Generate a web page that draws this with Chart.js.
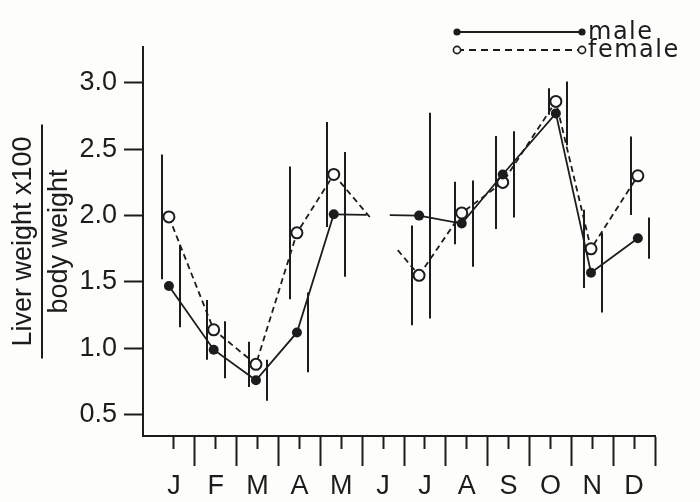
<!DOCTYPE html>
<html><head><meta charset="utf-8">
<script src="https://cdn.jsdelivr.net/npm/chart.js@4/dist/chart.umd.min.js"></script>
<style>html,body{margin:0;padding:0;background:#fdfdfb}canvas{display:block}</style>
</head><body>
<canvas id="c" width="700" height="502"></canvas>
<script>
// ---- data ----
const monthLabels = ['J','F','M','A','M','J','J','A','S','O','N','D'];
const sampleMonth = [0.38, 1.45, 2.46, 3.44, 4.32, 6.36, 7.38, 8.36, 9.63, 10.47, 11.59];
const maleMean    = [1.47, 0.99, 0.76, 1.12, 2.01, 2.00, 1.94, 2.31, 2.77, 1.57, 1.83];
const maleErr     = [0.31, 0.215, 0.155, 0.30, 0.47, 0.775, 0.325, 0.325, 0.24, 0.30, 0.155];
const femaleMean  = [1.99, 1.14, 0.88, 1.87, 2.31, 1.55, 2.02, 2.25, 2.86, 1.75, 2.30];
const femaleErr   = [0.47, 0.225, 0.17, 0.50, 0.395, 0.375, 0.235, 0.35, 0.10, 0.295, 0.295];
const yTickValues = [0.5, 1.0, 1.5, 2.0, 2.5, 3.0];
const missingMonth = 5; // June: no samples
const yTitle = ['Liver weight x100', 'body weight'];
const legendNames = ['male', 'female'];

// ---- style ----
const INK = '#1c1c1c';
const BG = '#fdfdfb';
const FONT = '"Liberation Sans", Arial, sans-serif';
const xTickValues = monthLabels.flatMap((_, i) => [i + 0.5, i + 1]);

function gapDash(base, gap) {
  return ctx => {
    const xs = ctx.chart.scales.x;
    const x0 = ctx.p0.x, x1 = ctx.p1.x;
    const g0 = xs.getPixelForValue(missingMonth + gap[0]);
    const g1 = xs.getPixelForValue(missingMonth + gap[1]);
    if (!(x0 < g0 && x1 > g1)) return base;
    const L = Math.hypot(x1 - x0, ctx.p1.y - ctx.p0.y);
    const k = L / (x1 - x0);
    const a = (g0 - x0) * k, b = (g1 - x0) * k;
    if (!base.length) return [a, b - a, L * 2, 1];
    const out = []; let pos = 0;
    while (pos < a) {
      const on = Math.min(base[0], a - pos); out.push(on); pos += on;
      let off = base[1]; if (pos + off >= a) off = b - pos;
      out.push(off); pos += off;
    }
    while (pos < L + 20) { out.push(base[0], base[1]); pos += base[0] + base[1]; }
    return out;
  };
}

const bgPlugin = {
  id: 'bg',
  beforeDraw(chart) {
    const c = chart.ctx; c.save(); c.fillStyle = BG; c.fillRect(0, 0, chart.width, chart.height); c.restore();
  }
};

const errorBars = {
  id: 'errorBars',
  beforeDatasetsDraw(chart) {
    const { ctx, scales: { x, y } } = chart;
    ctx.save(); ctx.strokeStyle = INK; ctx.lineWidth = 2;
    const draw = (means, errs, off) => means.forEach((m, i) => {
      const px = Math.round(x.getPixelForValue(sampleMonth[i])) + off;
      ctx.beginPath();
      ctx.moveTo(px, y.getPixelForValue(m + errs[i]));
      ctx.lineTo(px, y.getPixelForValue(m - errs[i]));
      ctx.stroke();
    });
    draw(femaleMean, femaleErr, -7);
    draw(maleMean, maleErr, 11);
    ctx.restore();
  }
};

const extras = {
  id: 'extras',
  afterDraw(chart) {
    const c = chart.ctx; const ys = chart.scales.y;
    c.save();
    // fraction bar of the y title
    const t = ys.options.title; const lh = 36;
    c.font = '27px ' + FONT;
    const w = Math.max(...yTitle.map(s => c.measureText(s).width));
    const xb = ys.left + t.padding.top + lh / 2 + lh / 2;
    const yc = (ys.top + ys.bottom) / 2;
    c.strokeStyle = INK; c.lineWidth = 2;
    c.beginPath(); c.moveTo(xb, yc - w / 2 - 12); c.lineTo(xb, yc + w / 2 + 12); c.stroke();
    // legend
    const rows = [{ y: 32, dash: [], filled: true }, { y: 50, dash: [7, 5], filled: false }];
    rows.forEach((r, i) => {
      c.setLineDash(r.dash); c.lineWidth = 1.8;
      c.beginPath(); c.moveTo(457, r.y); c.lineTo(582, r.y); c.stroke();
      c.setLineDash([]);
      [457, 582].forEach(px => {
        c.beginPath(); c.arc(px, r.y, 3.6, 0, Math.PI * 2);
        if (r.filled) { c.fillStyle = INK; c.fill(); }
        else { c.fillStyle = BG; c.fill(); c.lineWidth = 1.6; c.stroke(); }
      });
      c.fillStyle = INK; c.font = '24px "DejaVu Sans", sans-serif';
      c.letterSpacing = '1.5px';
      c.textBaseline = 'alphabetic'; c.textAlign = 'left';
      c.fillText(legendNames[i], 588, r.y + 7);
    });
    c.restore();
  }
};

new Chart(document.getElementById('c'), {
  type: 'line',
  data: {
    datasets: [
      {
        label: legendNames[0],
        data: sampleMonth.map((m, i) => ({ x: m, y: maleMean[i] })),
        borderColor: INK, borderWidth: 1.8, fill: false, tension: 0,
        pointRadius: 5, pointBackgroundColor: INK, pointBorderWidth: 0,
        segment: { borderDash: gapDash([], [0.11, 0.66]) }
      },
      {
        label: legendNames[1],
        data: sampleMonth.map((m, i) => ({ x: m, y: femaleMean[i] })),
        borderColor: INK, borderWidth: 1.8, fill: false, tension: 0,
        pointRadius: 5.5, pointBackgroundColor: BG, pointBorderColor: INK, pointBorderWidth: 2,
        segment: { borderDash: gapDash([6, 4], [0.18, 0.85]) }
      }
    ]
  },
  options: {
    responsive: false, animation: false, devicePixelRatio: 1,
    layout: { padding: { top: 47, right: 45, left: 0, bottom: 0 } },
    plugins: { legend: { display: false }, tooltip: { enabled: false } },
    scales: {
      x: {
        type: 'linear', min: -0.24, max: 12,
        afterBuildTicks: s => { s.ticks = xTickValues.map(v => ({ value: v })); },
        afterFit: s => { s.height = 66; },
        border: { color: INK, width: 2 },
        grid: {
          drawOnChartArea: false, tickLength: 30, tickWidth: 2, tickColor: INK,
          tickBorderDash: ctx => (Number.isInteger(ctx.tick && ctx.tick.value) ? [] : [12, 100])
        },
        ticks: {
          autoSkip: false, maxRotation: 0, padding: 4, color: INK,
          font: { family: FONT, size: 27 },
          callback: v => (Number.isInteger(v) ? '' : monthLabels[Math.floor(v)])
        }
      },
      y: {
        min: 0.34, max: 3.27,
        afterBuildTicks: s => { s.ticks = yTickValues.map(v => ({ value: v })); },
        afterFit: s => { s.width = 143; },
        border: { color: INK, width: 2 },
        grid: { drawOnChartArea: false, tickLength: 19, tickWidth: 2, tickColor: INK },
        ticks: {
          padding: 7, color: INK, font: { family: FONT, size: 27 },
          callback: v => v.toFixed(1)
        },
        title: {
          display: true, text: yTitle, color: INK,
          font: { family: FONT, size: 27, lineHeight: 36 / 27 },
          padding: { top: 6, bottom: 0 }
        }
      }
    }
  },
  plugins: [bgPlugin, errorBars, extras]
});
</script>
</body></html>
